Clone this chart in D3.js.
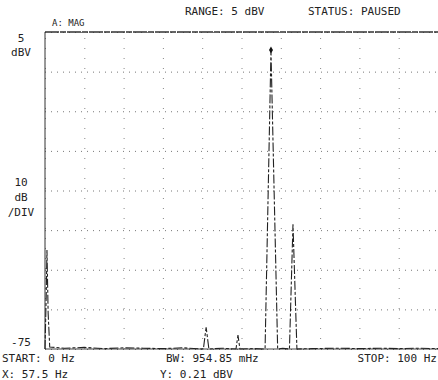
<!DOCTYPE html>
<html>
<head>
<meta charset="utf-8">
<script src="https://cdn.jsdelivr.net/npm/d3@7"></script>
<style>
  html, body { margin: 0; padding: 0; background: #fff; }
  svg { display: block; }
  text { font-family: "DejaVu Sans Mono", "Liberation Mono", monospace; font-size: 11px; fill: #222; }
</style>
</head>
<body>
<svg id="chart" width="438" height="380"></svg>
<script>
// Spectrum trace: frequency (Hz) and magnitude (dBV)
const traceFreq = [0, 0.3, 0.5, 0.8, 1.2, 5, 10, 15, 20, 25, 30, 35, 40.3, 41.0, 41.7,
                   45, 48.6, 49.1, 49.6, 53, 56.0, 57.5, 59.2, 60.5, 62.2, 63.1, 64.1,
                   68, 75, 80, 85, 90, 95, 100];
const traceDb   = [-75, -62, -50, -66, -74.5, -74.8, -74.6, -74.9, -74.7, -74.8, -74.9, -74.7, -75, -69.5, -75,
                   -74.8, -75, -71.5, -75, -74.9, -75, 0.21, -75, -74.8, -75, -43.5, -75,
                   -74.9, -74.8, -74.9, -74.8, -74.9, -74.8, -74.9];

// Axis ranges and labels
const freqDomain = [0, 100];
const dbDomain = [-75, 5];
const dbTicks = [-75, -65, -55, -45, -35, -25, -15, -5, 5];
const freqTicks = [0, 10, 20, 30, 40, 50, 60, 70, 80, 90, 100];
const headerTexts = ["RANGE: 5 dBV", "STATUS: PAUSED"];
const footerTexts = ["START: 0 Hz", "BW: 954.85 mHz", "STOP: 100 Hz"];
const markerTexts = ["X: 57.5 Hz", "Y: 0.21 dBV"];
const markerFreq = 57.5;
const markerDb = 0.21;

const svg = d3.select("#chart");
const plotLeft = 45, plotRight = 438, plotTop = 32, plotBottom = 349;

const x = d3.scaleLinear().domain(freqDomain).range([plotLeft, plotRight]);
const y = d3.scaleLinear().domain(dbDomain).range([plotBottom, plotTop]);

// Horizontal grid (10 dB per division)
const yGrid = svg.append("g")
  .attr("transform", `translate(${plotLeft},0)`)
  .call(d3.axisLeft(y).tickValues(dbTicks).tickSize(-(plotRight - plotLeft)).tickFormat(""));
yGrid.select(".domain").remove();
yGrid.selectAll(".tick line")
  .attr("stroke", "#777").attr("stroke-width", 1).attr("stroke-dasharray", "1,5");

// Vertical grid (10 Hz per division), sparse dots
const xGrid = svg.append("g")
  .attr("transform", `translate(0,${plotBottom})`)
  .call(d3.axisBottom(x).tickValues(freqTicks).tickSize(-(plotBottom - plotTop)).tickFormat(""));
xGrid.select(".domain").remove();
xGrid.selectAll(".tick line")
  .attr("stroke", "#888").attr("stroke-width", 1).attr("stroke-dasharray", "1,9");

// Frame: heavy top edge, left edge and baseline
svg.append("line").attr("x1", plotLeft).attr("x2", plotRight).attr("y1", plotTop).attr("y2", plotTop)
  .attr("stroke", "#333").attr("stroke-width", 1.4).attr("stroke-dasharray", "14,1,6,1");
svg.append("line").attr("x1", plotLeft).attr("x2", plotLeft).attr("y1", plotTop).attr("y2", plotBottom)
  .attr("stroke", "#333").attr("stroke-width", 1);
svg.append("line").attr("x1", plotLeft).attr("x2", plotRight).attr("y1", plotBottom).attr("y2", plotBottom)
  .attr("stroke", "#444").attr("stroke-width", 1);

// Spectrum trace
const pts = traceFreq.map((f, i) => [f, traceDb[i]]);
const line = d3.line().x(d => x(d[0])).y(d => y(Math.max(d[1], dbDomain[0])));
svg.append("path")
  .datum(pts)
  .attr("d", line)
  .attr("fill", "none")
  .attr("stroke", "#222")
  .attr("stroke-width", 1.1)
  .attr("stroke-dasharray", "9,2,3,2");

// Marker at the main peak
svg.append("path")
  .attr("d", d3.symbol().type(d3.symbolDiamond).size(14)())
  .attr("transform", `translate(${x(markerFreq)},${y(markerDb) - 1})`)
  .attr("fill", "#111");

// Header
svg.append("text").attr("x", 52).attr("y", 26).style("font-size", "9px").text("A: MAG");
svg.append("text").attr("x", 185).attr("y", 15).text(headerTexts[0]);
svg.append("text").attr("x", 308).attr("y", 15).text(headerTexts[1]);

// Left annotations
const leftLabels = [["5", 42], ["dBV", 56], ["10", 186], ["dB", 201], ["/DIV", 216]];
leftLabels.forEach(([t, yy]) => {
  svg.append("text").attr("x", 21).attr("y", yy).attr("text-anchor", "middle").text(t);
});
svg.append("text").attr("x", 21).attr("y", 346).attr("text-anchor", "middle").text("-75");

// Footer
svg.append("text").attr("x", 2).attr("y", 362).text(footerTexts[0]);
svg.append("text").attr("x", 166).attr("y", 362).text(footerTexts[1]);
svg.append("text").attr("x", 437).attr("y", 362).attr("text-anchor", "end").text(footerTexts[2]);
svg.append("text").attr("x", 2).attr("y", 378).text(markerTexts[0]);
svg.append("text").attr("x", 160).attr("y", 378).text(markerTexts[1]);
</script>
</body>
</html>
